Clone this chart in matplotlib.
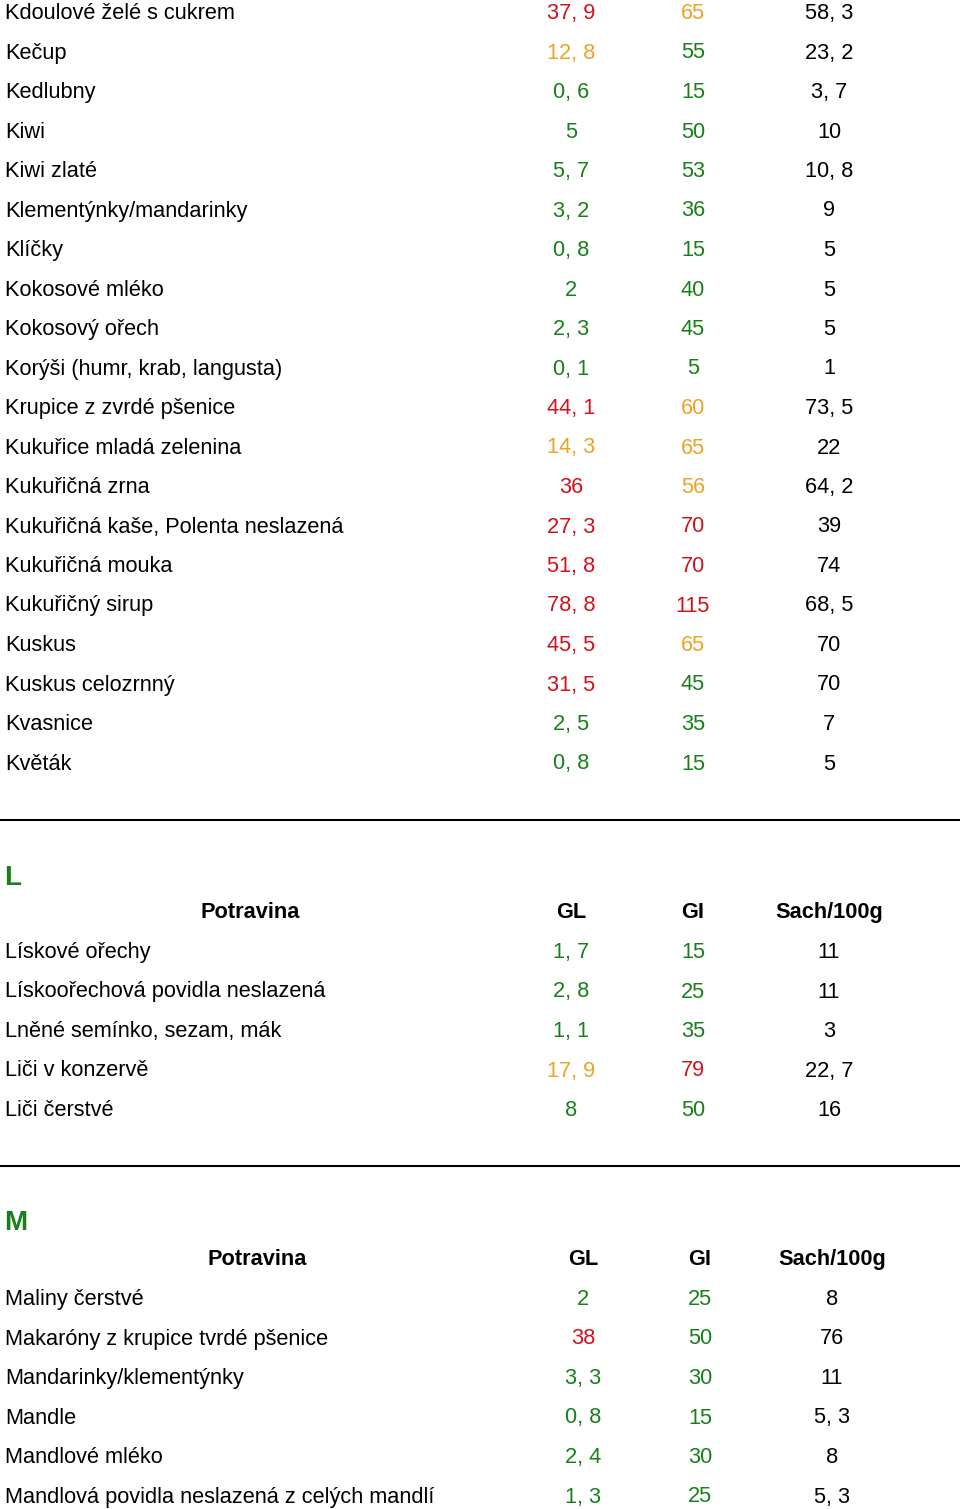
import matplotlib.pyplot as plt

# section K
k_foods = ["Kdoulové želé s cukrem", "Kečup", "Kedlubny", "Kiwi", "Kiwi zlaté",
           "Klementýnky/mandarinky", "Klíčky", "Kokosové mléko", "Kokosový ořech",
           "Korýši (humr, krab, langusta)", "Krupice z zvrdé pšenice",
           "Kukuřice mladá zelenina", "Kukuřičná zrna",
           "Kukuřičná kaše, Polenta neslazená", "Kukuřičná mouka", "Kukuřičný sirup",
           "Kuskus", "Kuskus celozrnný", "Kvasnice", "Květák"]
k_gl = [37.9, 12.8, 0.6, 5, 5.7, 3.2, 0.8, 2, 2.3, 0.1, 44.1, 14.3, 36, 27.3, 51.8,
        78.8, 45.5, 31.5, 2.5, 0.8]
k_gi = [65, 55, 15, 50, 53, 36, 15, 40, 45, 5, 60, 65, 56, 70, 70, 115, 65, 45, 35, 15]
k_sach = [58.3, 23.2, 3.7, 10, 10.8, 9, 5, 5, 5, 1, 73.5, 22, 64.2, 39, 74, 68.5,
          70, 70, 7, 5]

# section L
l_foods = ["Lískové ořechy", "Lískoořechová povidla neslazená",
           "Lněné semínko, sezam, mák", "Liči v konzervě", "Liči čerstvé"]
l_gl = [1.7, 2.8, 1.1, 17.9, 8]
l_gi = [15, 25, 35, 79, 50]
l_sach = [11, 11, 3, 22.7, 16]

# section M
m_foods = ["Maliny čerstvé", "Makaróny z krupice tvrdé pšenice",
           "Mandarinky/klementýnky", "Mandle", "Mandlové mléko",
           "Mandlová povidla neslazená z celých mandlí"]
m_gl = [2, 38, 3.3, 0.8, 2.4, 1.3]
m_gi = [25, 50, 30, 15, 30, 25]
m_sach = [8, 76, 11, 5.3, 8, 5.3]

headers = ["Potravina", "GL", "GI", "Sach/100g"]

RED = "#d3111c"
ORANGE = "#eda226"
GREEN = "#17801a"
FONT = "Liberation Sans"
FS = 15.7


def fmt(v):
    # czech style decimal "37, 9"
    if float(v).is_integer():
        return str(int(v))
    return ("%.1f" % v).replace(".", ", ")


def gl_color(v):
    if v < 10:
        return GREEN
    if v <= 20:
        return ORANGE
    return RED


def gi_color(v):
    if v <= 55:
        return GREEN
    if v < 70:
        return ORANGE
    return RED


def draw_rows(ax, foods, gl, gi, sach, y0, cols, step=39.5):
    for i, name in enumerate(foods):
        y = y0 + i * step
        ax.text(5, y, name, ha="left", va="center_baseline", fontsize=FS, family=FONT)
        ax.text(cols[0], y, fmt(gl[i]), ha="center", va="center_baseline",
                fontsize=FS, family=FONT, color=gl_color(gl[i]))
        ax.text(cols[1], y, fmt(gi[i]), ha="center", va="center_baseline",
                fontsize=FS, family=FONT, color=gi_color(gi[i]))
        ax.text(cols[2], y, fmt(sach[i]), ha="center", va="center_baseline",
                fontsize=FS, family=FONT, color="black")


def draw_header(ax, letter, y_letter, y_head, name_x, cols):
    ax.text(4, y_letter, letter, ha="left", va="center_baseline", fontsize=20,
            family=FONT, fontweight="bold", color=GREEN)
    xs = [name_x] + list(cols)
    for x, h in zip(xs, headers):
        ax.text(x, y_head, h, ha="center", va="center_baseline", fontsize=FS,
                family=FONT, fontweight="bold")


fig = plt.figure(figsize=(9.6, 15.09), dpi=100)
ax = fig.add_axes([0, 0, 1, 1])
ax.set_xlim(0, 960)
ax.set_ylim(1509, 0)
ax.axis("off")

draw_rows(ax, k_foods, k_gl, k_gi, k_sach, 11, (571, 693, 829))

ax.axhline(820, xmin=0, xmax=1, color="black", lw=1.5)
draw_header(ax, "L", 875, 910, 250, (571, 693, 829))
draw_rows(ax, l_foods, l_gl, l_gi, l_sach, 950, (571, 693, 829))

ax.axhline(1166, xmin=0, xmax=1, color="black", lw=1.5)
draw_header(ax, "M", 1220, 1257, 257, (583, 700, 832))
draw_rows(ax, m_foods, m_gl, m_gi, m_sach, 1297, (583, 700, 832))

plt.savefig("out.png", dpi=100)
